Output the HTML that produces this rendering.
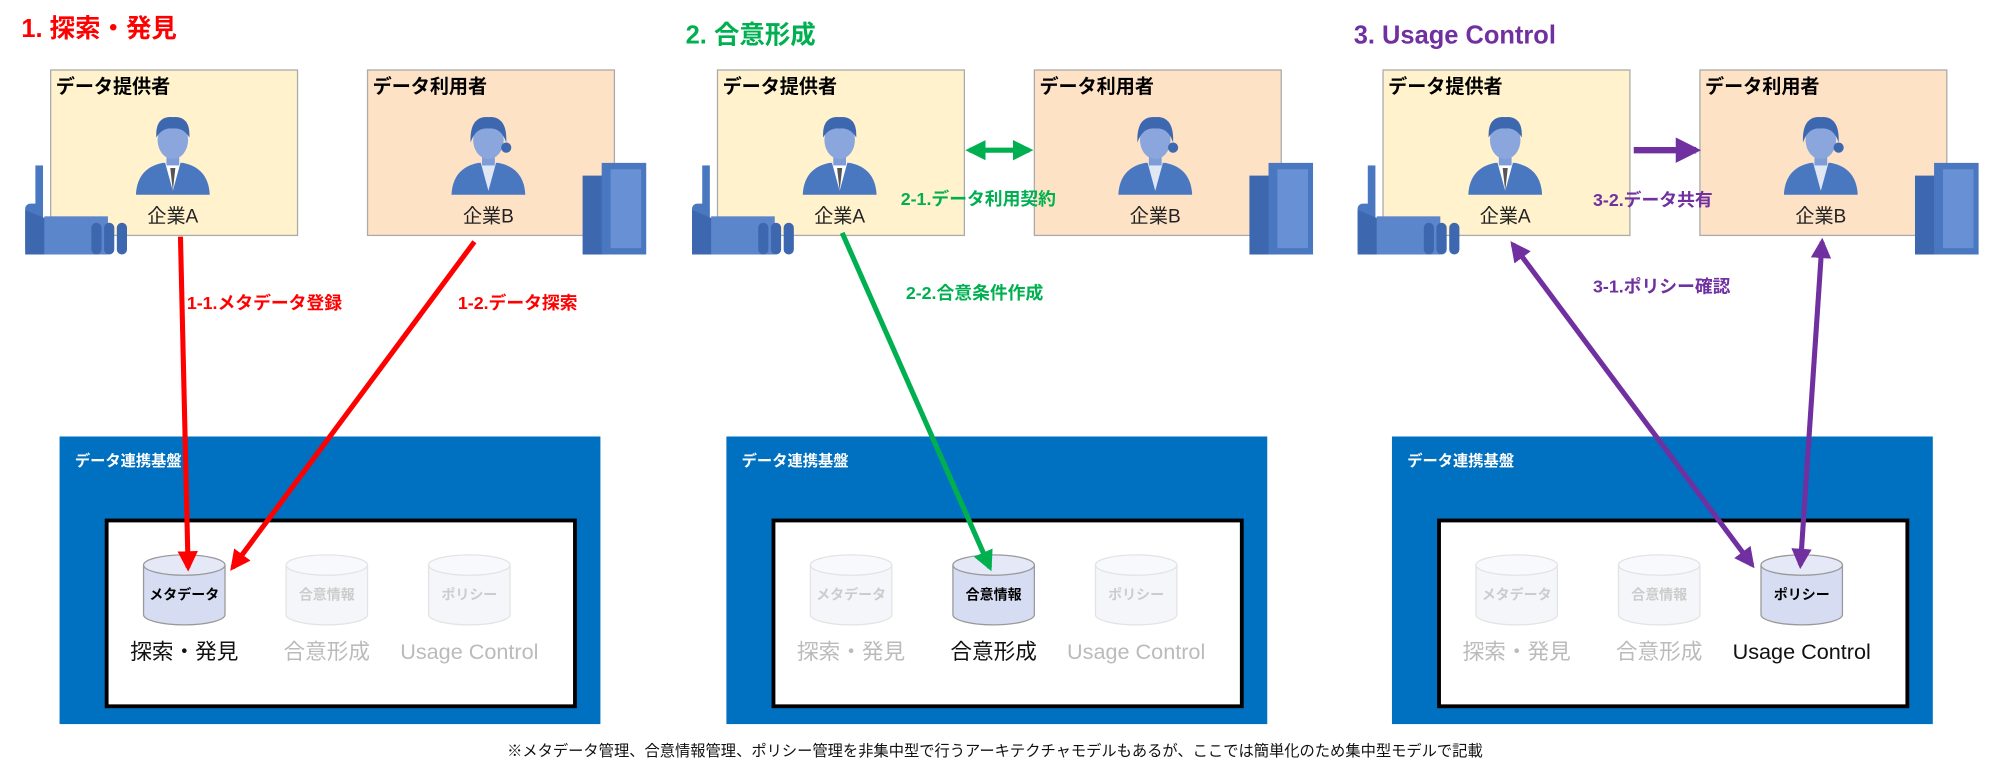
<!DOCTYPE html>
<html><head><meta charset="utf-8"><style>
html,body{margin:0;padding:0;background:#fff;width:2000px;height:775px;overflow:hidden}
svg{display:block}
text{font-family:"Liberation Sans","Noto Sans CJK JP",sans-serif}
</style></head><body>
<svg width="2000" height="775" viewBox="0 0 1568 609" xmlns="http://www.w3.org/2000/svg">
<defs>
<marker id="mr" viewBox="0 0 10 10" refX="8" refY="5" markerWidth="4" markerHeight="4" orient="auto-start-reverse"><path d="M0,0L10,5L0,10z" fill="#FF0000"/></marker>
<marker id="mg" viewBox="0 0 10 10" refX="8" refY="5" markerWidth="4" markerHeight="4" orient="auto-start-reverse"><path d="M0,0L10,5L0,10z" fill="#00B050"/></marker>
<marker id="mp" viewBox="0 0 10 10" refX="8" refY="5" markerWidth="4" markerHeight="4" orient="auto-start-reverse"><path d="M0,0L10,5L0,10z" fill="#7030A0"/></marker>
<g id="man">
<path d="M-29,43 Q-28,22 -8,18 L8,18 Q28,22 29,43 Z" fill="#4A78C0"/>
<path d="M-6,18 L0,40 L6,18 Z" fill="#fff"/><path d="M-2,22 L0,40 L2,22Z" fill="#555"/>
<rect x="-5" y="8" width="10" height="12" fill="#7E9CD8"/>
<ellipse cx="0" cy="0" rx="12" ry="15" fill="#8AA6DD"/>
<path d="M-13,-2 Q-14,-19 0,-18 Q14,-19 13,-2 Q8,-10 0,-9 Q-8,-10 -13,-2Z" fill="#3D67AE"/>
</g>
<g id="woman">
<path d="M-29,43 Q-28,22 -8,18 L8,18 Q28,22 29,43 Z" fill="#4A78C0"/>
<path d="M-6,18 L0,40 L6,18 Z" fill="#dfe7f5"/>
<rect x="-5" y="8" width="10" height="12" fill="#7E9CD8"/>
<ellipse cx="0" cy="0" rx="12" ry="15" fill="#8AA6DD"/>
<path d="M-14,2 Q-15,-19 0,-18 Q15,-19 14,2 Q10,-10 0,-9 Q-10,-10 -14,2Z" fill="#3D67AE"/>
<circle cx="14" cy="6" r="4" fill="#3D67AE"/>
</g>
<g id="factory">
<rect x="8" y="0" width="6" height="70" fill="#4A78C0"/>
<rect x="0" y="30" width="12" height="40" rx="4" fill="#4A78C0"/>
<path d="M0,35 L60,60 L60,70 L0,70Z" fill="#3D67AE"/>
<rect x="15" y="40" width="50" height="30" fill="#5B86CC"/>
<rect x="52" y="45" width="8" height="25" rx="4" fill="#3D67AE"/><rect x="62" y="45" width="8" height="25" rx="4" fill="#3D67AE"/><rect x="72" y="45" width="8" height="25" rx="4" fill="#3D67AE"/>
</g>
<g id="bldg">
<rect x="0" y="10" width="20" height="62" fill="#3D67AE"/>
<rect x="15" y="0" width="35" height="72" fill="#4A78C0"/>
<rect x="22" y="5" width="24" height="62" fill="#6890D5"/>
</g>
<g id="pair">
<rect x="38" y="55" width="194" height="130" fill="#FFF2CC" stroke="#aaa"/>
<text x="42" y="73" font-size="15" font-weight="bold">データ提供者</text>
<use href="#man" x="134" y="110"/>
<text x="134" y="175" font-size="15" text-anchor="middle" fill="#222">企業A</text>
<rect x="287" y="55" width="194" height="130" fill="#FDE2C6" stroke="#aaa"/>
<text x="291" y="73" font-size="15" font-weight="bold">データ利用者</text>
<use href="#woman" x="382" y="110"/>
<text x="382" y="175" font-size="15" text-anchor="middle" fill="#222">企業B</text>
<use href="#factory" x="18" y="130"/>
<use href="#bldg" x="456" y="128"/>
</g>
<g id="plat">
<rect x="45" y="343" width="425" height="226" fill="#0070C0"/>
<text x="57" y="366" fill="#fff" font-size="12" font-weight="bold">データ連携基盤</text>
<rect x="82" y="409" width="368" height="146" fill="#fff" stroke="#000" stroke-width="3"/>
</g>
</defs>

<text x="15" y="29" font-size="20" font-weight="bold" fill="#FF0000">1. 探索・発見</text>
<text x="537" y="34" font-size="20" font-weight="bold" fill="#00B050">2. 合意形成</text>
<text x="1062" y="34" font-size="20" font-weight="bold" fill="#7030A0">3. Usage Control</text>

<use href="#pair"/>
<use href="#pair" x="524"/>
<use href="#pair" x="1047"/>

<use href="#plat"/>
<use href="#plat" x="524"/>
<use href="#plat" x="1047"/>

<g>
<path d="M111,444 L111,483 A32,8 0 0 0 175,483 L175,444" fill="#D6DCF2" stroke="#999"/><ellipse cx="143" cy="444" rx="32" ry="8" fill="#E4E8F7" stroke="#999"/>
<text x="143" y="471" font-size="11" font-weight="bold" text-anchor="middle">メタデータ</text>
<path d="M223,444 L223,483 A32,8 0 0 0 287,483 L287,444" fill="#F5F6FA" stroke="#e3e3e3"/><ellipse cx="255" cy="444" rx="32" ry="8" fill="#F8F9FC" stroke="#e3e3e3"/>
<text x="255" y="471" font-size="11" font-weight="bold" text-anchor="middle" fill="#ccc">合意情報</text>
<path d="M335,444 L335,483 A32,8 0 0 0 399,483 L399,444" fill="#F5F6FA" stroke="#e3e3e3"/><ellipse cx="367" cy="444" rx="32" ry="8" fill="#F8F9FC" stroke="#e3e3e3"/>
<text x="367" y="471" font-size="11" font-weight="bold" text-anchor="middle" fill="#ccc">ポリシー</text>
<g font-size="17" text-anchor="middle"><text x="143" y="518" fill="#111">探索・発見</text><text x="255" y="518" fill="#bbb">合意形成</text><text x="367" y="518" fill="#bbb">Usage Control</text></g>
</g>
<g transform="translate(524,0)">
<path d="M111,444 L111,483 A32,8 0 0 0 175,483 L175,444" fill="#F5F6FA" stroke="#e3e3e3"/><ellipse cx="143" cy="444" rx="32" ry="8" fill="#F8F9FC" stroke="#e3e3e3"/>
<text x="143" y="471" font-size="11" font-weight="bold" text-anchor="middle" fill="#ccc">メタデータ</text>
<path d="M223,444 L223,483 A32,8 0 0 0 287,483 L287,444" fill="#D6DCF2" stroke="#999"/><ellipse cx="255" cy="444" rx="32" ry="8" fill="#E4E8F7" stroke="#999"/>
<text x="255" y="471" font-size="11" font-weight="bold" text-anchor="middle">合意情報</text>
<path d="M335,444 L335,483 A32,8 0 0 0 399,483 L399,444" fill="#F5F6FA" stroke="#e3e3e3"/><ellipse cx="367" cy="444" rx="32" ry="8" fill="#F8F9FC" stroke="#e3e3e3"/>
<text x="367" y="471" font-size="11" font-weight="bold" text-anchor="middle" fill="#ccc">ポリシー</text>
<g font-size="17" text-anchor="middle"><text x="143" y="518" fill="#bbb">探索・発見</text><text x="255" y="518" fill="#111">合意形成</text><text x="367" y="518" fill="#bbb">Usage Control</text></g>
</g>
<g transform="translate(1047,0)">
<path d="M111,444 L111,483 A32,8 0 0 0 175,483 L175,444" fill="#F5F6FA" stroke="#e3e3e3"/><ellipse cx="143" cy="444" rx="32" ry="8" fill="#F8F9FC" stroke="#e3e3e3"/>
<text x="143" y="471" font-size="11" font-weight="bold" text-anchor="middle" fill="#ccc">メタデータ</text>
<path d="M223,444 L223,483 A32,8 0 0 0 287,483 L287,444" fill="#F5F6FA" stroke="#e3e3e3"/><ellipse cx="255" cy="444" rx="32" ry="8" fill="#F8F9FC" stroke="#e3e3e3"/>
<text x="255" y="471" font-size="11" font-weight="bold" text-anchor="middle" fill="#ccc">合意情報</text>
<path d="M335,444 L335,483 A32,8 0 0 0 399,483 L399,444" fill="#D6DCF2" stroke="#999"/><ellipse cx="367" cy="444" rx="32" ry="8" fill="#E4E8F7" stroke="#999"/>
<text x="367" y="471" font-size="11" font-weight="bold" text-anchor="middle">ポリシー</text>
<g font-size="17" text-anchor="middle"><text x="143" y="518" fill="#bbb">探索・発見</text><text x="255" y="518" fill="#bbb">合意形成</text><text x="367" y="518" fill="#111">Usage Control</text></g>
</g>

<line x1="140" y1="186" x2="146" y2="446" stroke="#FF0000" stroke-width="4" marker-end="url(#mr)"/>
<line x1="371" y1="190" x2="181" y2="446" stroke="#FF0000" stroke-width="4" marker-end="url(#mr)"/>
<text x="145" y="243" font-size="14" font-weight="bold" fill="#FF0000">1-1.メタデータ登録</text>
<text x="358" y="243" font-size="14" font-weight="bold" fill="#FF0000">1-2.データ探索</text>

<line x1="760" y1="118" x2="807" y2="118" stroke="#00B050" stroke-width="4" marker-start="url(#mg)" marker-end="url(#mg)"/>
<text x="706" y="161" font-size="14" font-weight="bold" fill="#00B050">2-1.データ利用契約</text>
<line x1="660" y1="183" x2="776" y2="446" stroke="#00B050" stroke-width="4" marker-end="url(#mg)"/>
<text x="710" y="235" font-size="14" font-weight="bold" fill="#00B050">2-2.合意条件作成</text>

<line x1="1282" y1="118" x2="1331" y2="118" stroke="#7030A0" stroke-width="5" marker-end="url(#mp)"/>
<text x="1250" y="162" font-size="14" font-weight="bold" fill="#7030A0">3-2.データ共有</text>
<line x1="1187" y1="192" x2="1375" y2="444" stroke="#7030A0" stroke-width="4" marker-start="url(#mp)" marker-end="url(#mp)"/>
<line x1="1430" y1="190" x2="1413" y2="444" stroke="#7030A0" stroke-width="4" marker-start="url(#mp)" marker-end="url(#mp)"/>
<text x="1250" y="230" font-size="14" font-weight="bold" fill="#7030A0">3-1.ポリシー確認</text>

<text x="780" y="594" font-size="12" text-anchor="middle" fill="#111">※メタデータ管理、合意情報管理、ポリシー管理を非集中型で行うアーキテクチャモデルもあるが、ここでは簡単化のため集中型モデルで記載</text>
</svg>
</body></html>
